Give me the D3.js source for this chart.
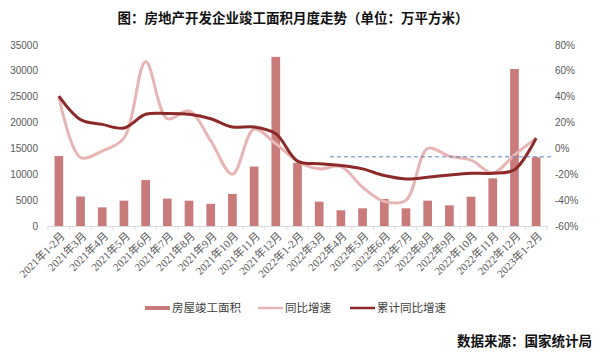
<!DOCTYPE html>
<html>
<head>
<meta charset="utf-8">
<script src="https://cdn.jsdelivr.net/npm/d3@7"></script>
<style>
  body { margin: 0; background: #fff; }
  svg { display: block; }
</style>
</head>
<body>
<svg id="chart"></svg>
<script>
// Categories (months)
const categories = [
  "2021年1-2月", "2021年3月", "2021年4月", "2021年5月", "2021年6月", "2021年7月",
  "2021年8月", "2021年9月", "2021年10月", "2021年11月", "2021年12月",
  "2022年1-2月", "2022年3月", "2022年4月", "2022年5月", "2022年6月", "2022年7月",
  "2022年8月", "2022年9月", "2022年10月", "2022年11月", "2022年12月",
  "2023年1-2月"
];

// Completed floor area (10k m2), left axis
const completedArea = [13522, 5700, 3600, 4900, 8900, 5300, 4900, 4300, 6200, 11500, 32700,
  12212, 4700, 3040, 3420, 5220, 3420, 4900, 4000, 5670, 9220, 30360, 13291];

// Monthly YoY growth (%), right axis
const monthlyYoY = [40.4, -7, -2, 8, 67, 23, 29, 6, -20, 15, 3.6,
  -9.8, -15.8, -14, -30, -41, -40, 0, -6, -9, -19, -5, 8.0];

// Cumulative YoY growth (%), right axis
const cumulativeYoY = [40.4, 22.3, 18.6, 15.8, 26.4, 27, 26.4, 23, 16.6, 16.6, 11.3,
  -9.8, -11.9, -13.2, -15.8, -21, -23.6, -22.3, -20.5, -19.2, -19.2, -16.5, 8.0];

// Dashed reference line
const refLineValue = -6.5;
const refLineStart = "2022年4月";

const leftTicks = [0, 5000, 10000, 15000, 20000, 25000, 30000, 35000];
const rightTicks = [-60, -40, -20, 0, 20, 40, 60, 80];

const width = 600, height = 353;
const svg = d3.select("#chart").attr("width", width).attr("height", height);

const x = d3.scaleBand().domain(categories).range([48, 547]).paddingInner(0.6).paddingOuter(0.3);
const yL = d3.scaleLinear().domain([0, 35000]).range([226, 45]);
const yR = d3.scaleLinear().domain([-60, 80]).range([226, 45]);

const cjk = "'Noto Sans CJK SC', sans-serif";

// Title
svg.append("text")
   .attr("x", 293).attr("y", 23)
   .attr("text-anchor", "middle")
   .attr("font-family", cjk)
   .attr("font-weight", "bold")
   .attr("font-size", 13.5)
   .attr("fill", "#111")
   .text("图：房地产开发企业竣工面积月度走势（单位：万平方米）");

// Left axis labels
svg.append("g").selectAll("text")
   .data(leftTicks).enter().append("text")
   .attr("x", 38).attr("y", d => yL(d))
   .attr("dy", "0.35em")
   .attr("text-anchor", "end")
   .attr("font-family", "'Liberation Sans', Arial, sans-serif")
   .attr("font-size", 10)
   .attr("fill", "#595959")
   .text(d => d);

// Right axis labels
svg.append("g").selectAll("text")
   .data(rightTicks).enter().append("text")
   .attr("x", 555).attr("y", d => yR(d))
   .attr("dy", "0.35em")
   .attr("font-family", "'Liberation Sans', Arial, sans-serif")
   .attr("font-size", 10)
   .attr("fill", "#595959")
   .text(d => d + "%");

// Bars
svg.append("g").selectAll("rect")
   .data(completedArea).enter().append("rect")
   .attr("x", (d, i) => x(categories[i]))
   .attr("y", d => yL(d))
   .attr("width", x.bandwidth())
   .attr("height", d => yL(0) - yL(d))
   .attr("fill", "#c97a7a");

// X axis line and ticks
const xAxis = svg.append("g").attr("transform", `translate(0,${yL(0)})`)
   .call(d3.axisBottom(x).tickSize(0).tickFormat(""));
xAxis.select(".domain").attr("stroke", "#d9d9d9");
const step = x.step();
xAxis.selectAll(".bnd")
   .data(d3.range(categories.length + 1)).enter().append("line")
   .attr("x1", i => 48 + i * step).attr("x2", i => 48 + i * step)
   .attr("y1", 0).attr("y2", 4)
   .attr("stroke", "#d9d9d9");

// X labels
svg.append("g").selectAll("text")
   .data(categories).enter().append("text")
   .attr("transform", d => `translate(${x(d) + x.bandwidth() / 2 + 4},${yL(0) + 8}) rotate(-45)`)
   .attr("text-anchor", "end")
   .attr("dy", "0.35em")
   .attr("font-family", "'Liberation Serif', 'Noto Sans CJK SC', serif")
   .attr("font-size", 11)
   .attr("fill", "#595959")
   .text(d => d);

// Lines
const line = d3.line()
   .x((d, i) => x(categories[i]) + x.bandwidth() / 2)
   .y(d => yR(d))
   .curve(d3.curveCatmullRom.alpha(0.5));

svg.append("path").datum(monthlyYoY)
   .attr("d", line).attr("fill", "none")
   .attr("stroke", "#e8b5b5").attr("stroke-width", 3);

svg.append("path").datum(cumulativeYoY)
   .attr("d", line).attr("fill", "none")
   .attr("stroke", "#8c2a2a").attr("stroke-width", 3);

// Reference line
svg.append("line")
   .attr("x1", x(refLineStart) - x.step() * x.paddingInner() / 2)
   .attr("x2", 553)
   .attr("y1", yR(refLineValue)).attr("y2", yR(refLineValue))
   .attr("stroke", "#5b86bd").attr("stroke-width", 1)
   .attr("stroke-dasharray", "4,3");

// Legend
const legend = [
  { label: "房屋竣工面积", color: "#c97a7a", w: 4, x: 145 },
  { label: "同比增速", color: "#e8b5b5", w: 2.5, x: 258 },
  { label: "累计同比增速", color: "#8c2a2a", w: 2.5, x: 350 }
];
const lg = svg.append("g").selectAll("g").data(legend).enter().append("g")
   .attr("transform", d => `translate(${d.x},308)`);
lg.append("line").attr("x1", 0).attr("x2", 25).attr("y1", 0).attr("y2", 0)
   .attr("stroke", d => d.color).attr("stroke-width", d => d.w);
lg.append("text").attr("x", 27).attr("dy", "0.35em")
   .attr("font-family", cjk).attr("font-size", 11.5).attr("fill", "#404040")
   .text(d => d.label);

// Source
svg.append("text")
   .attr("x", 592).attr("y", 346)
   .attr("text-anchor", "end")
   .attr("font-family", cjk)
   .attr("font-weight", "bold")
   .attr("font-size", 13.5)
   .attr("fill", "#111")
   .text("数据来源：国家统计局");
</script>
</body>
</html>
